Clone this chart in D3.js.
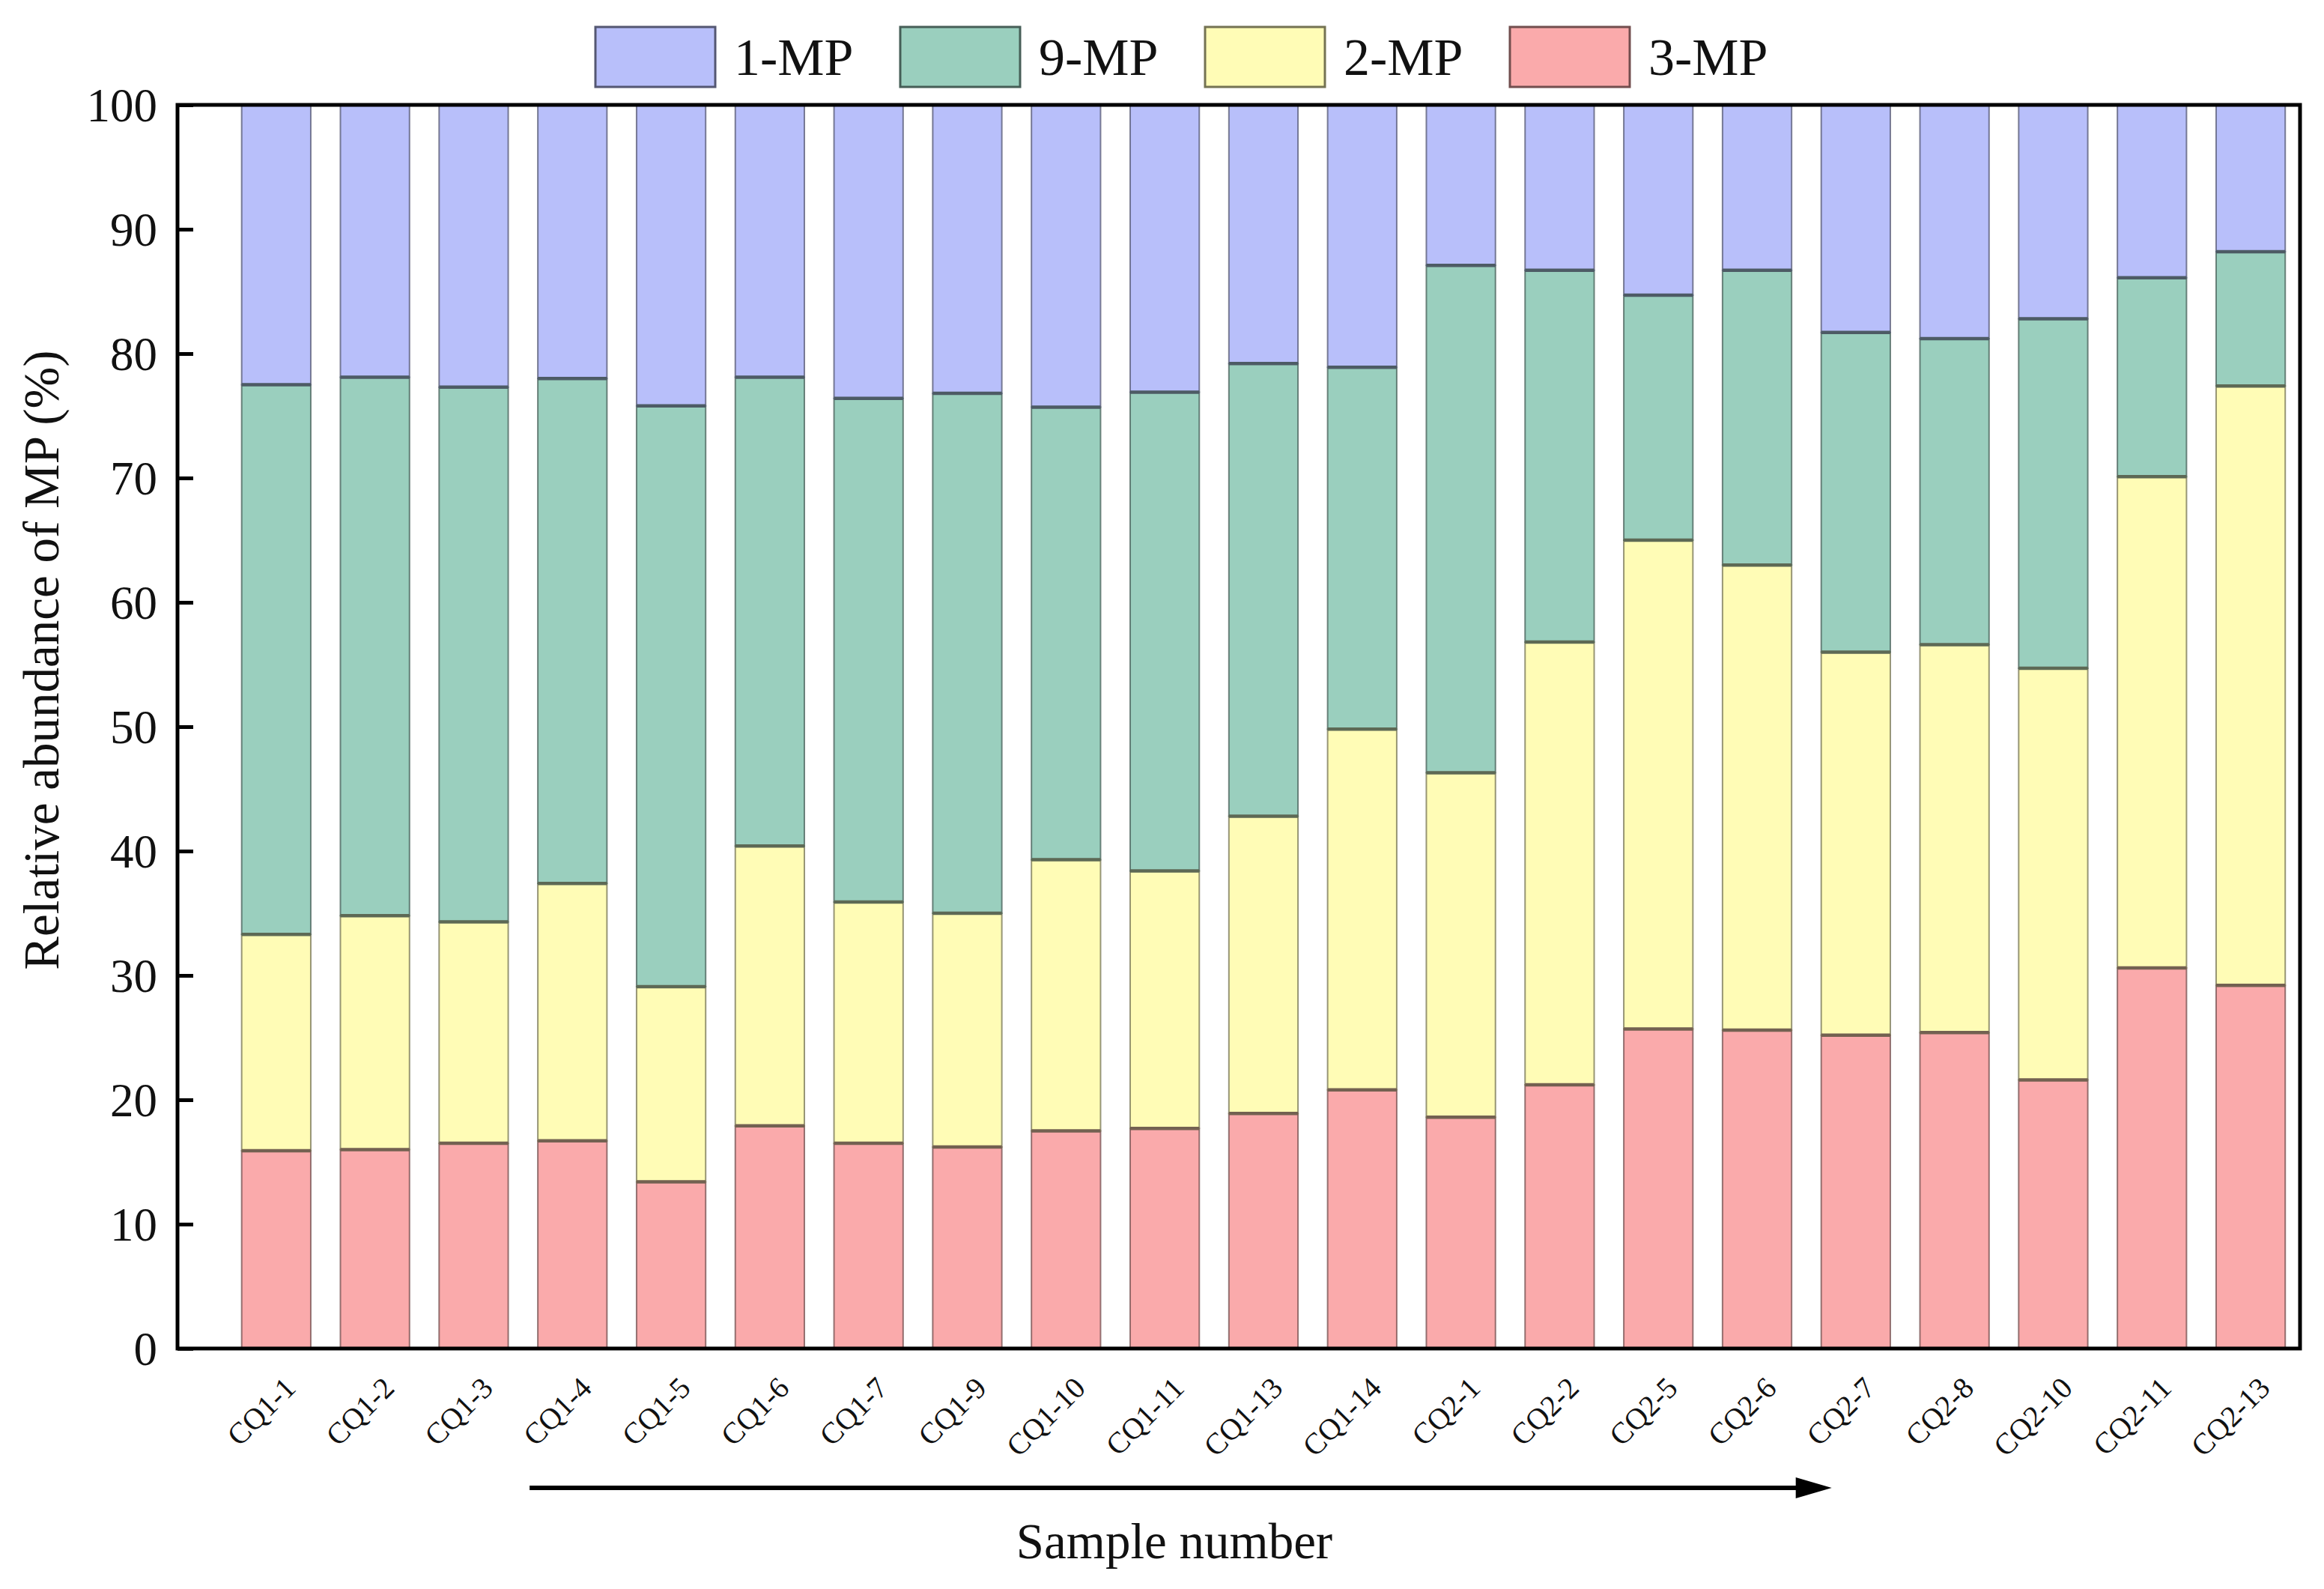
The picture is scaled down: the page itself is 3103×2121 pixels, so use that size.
<!DOCTYPE html>
<html>
<head>
<meta charset="utf-8">
<script src="https://cdn.jsdelivr.net/npm/d3@7"></script>
<style>
  html, body { margin: 0; padding: 0; background: #ffffff; }
  svg { display: block; }
  text { font-family: "Liberation Serif", "Times New Roman", serif; fill: #111; }
</style>
</head>
<body>
<svg id="chart" width="3103" height="2121"></svg>
<script>
// ---------------- data ----------------
const categories = ["CQ1-1","CQ1-2","CQ1-3","CQ1-4","CQ1-5","CQ1-6","CQ1-7","CQ1-9","CQ1-10","CQ1-11","CQ1-13","CQ1-14","CQ2-1","CQ2-2","CQ2-5","CQ2-6","CQ2-7","CQ2-8","CQ2-10","CQ2-11","CQ2-13"];
const mp3 = [15.9,16.0,16.5,16.7,13.4,17.9,16.5,16.2,17.5,17.7,18.9,20.8,18.6,21.2,25.7,25.6,25.2,25.4,21.6,30.6,29.2];
const mp2 = [17.4,18.8,17.8,20.7,15.7,22.5,19.4,18.8,21.8,20.7,23.9,29.0,27.7,35.6,39.3,37.4,30.8,31.2,33.1,39.5,48.2];
const mp9 = [44.2,43.3,43.0,40.6,46.7,37.7,40.5,41.8,36.4,38.5,36.4,29.1,40.8,29.9,19.7,23.7,25.7,24.6,28.1,16.0,10.8];
const mp1 = [22.5,21.9,22.7,22.0,24.2,21.9,23.6,23.2,24.3,23.1,20.8,21.1,12.9,13.3,15.3,13.3,18.3,18.8,17.2,13.9,11.8];
const stackKeys = ["3-MP","2-MP","9-MP","1-MP"];          // bottom -> top
const legendKeys = ["1-MP","9-MP","2-MP","3-MP"];
const seriesColors = ["#faaaab","#fffcb6","#9acfbe","#b8bffa"];
const yTicks = [0,10,20,30,40,50,60,70,80,90,100];
const yTitle = "Relative abundance of MP (%)";
const xTitle = "Sample number";

// ---------------- layout ----------------
const W = 3103, H = 2121;
const L = 237, R = 3071, T = 140, B = 1800;
const svg = d3.select("#chart");
svg.append("rect").attr("width", W).attr("height", H).attr("fill", "#fff");

const rows = categories.map((c, i) => ({cat: c, "3-MP": mp3[i], "2-MP": mp2[i], "9-MP": mp9[i], "1-MP": mp1[i]}));
const stacked = d3.stack().keys(stackKeys)(rows);
const color = d3.scaleOrdinal().domain(stackKeys).range(seriesColors);

const step = (R - L) / 21.5;
const x = d3.scaleBand().domain(categories).range([L + step * 0.5, R]).paddingInner(0.3).paddingOuter(0.15);
const y = d3.scaleLinear().domain([0, 100]).range([B, T]);

const dark = c => d3.color(c).darker(2.2).formatHex();

// bars
const g = svg.append("g");
stacked.forEach(s => {
  const fill = color(s.key);
  g.append("g").selectAll("rect").data(s).join("rect")
    .attr("x", d => x(d.data.cat))
    .attr("width", x.bandwidth())
    .attr("y", d => y(d[1]))
    .attr("height", d => y(d[0]) - y(d[1]))
    .attr("fill", fill)
    .attr("stroke", dark(fill))
    .attr("stroke-opacity", 0.75)
    .attr("stroke-width", 2);
});
// separators between stacked segments
for (let k = 0; k < stacked.length - 1; k++) {
  const lower = color(stacked[k].key), upper = color(stacked[k + 1].key);
  const sepColor = d3.interpolateRgb(dark(lower), dark(upper))(0.5);
  g.append("g").selectAll("line").data(stacked[k]).join("line")
    .attr("x1", d => x(d.data.cat))
    .attr("x2", d => x(d.data.cat) + x.bandwidth())
    .attr("y1", d => y(d[1]))
    .attr("y2", d => y(d[1]))
    .attr("stroke", sepColor)
    .attr("stroke-width", 4.5);
}

// y axis (ticks inward)
const yAxis = d3.axisLeft(y).tickValues(yTicks).tickSize(-21).tickPadding(27).tickFormat(d3.format("d"));
const ya = svg.append("g").attr("transform", `translate(${L},0)`).call(yAxis);
ya.select(".domain").remove();
ya.selectAll(".tick line").attr("stroke", "#000").attr("stroke-width", 5);
ya.selectAll(".tick text").attr("font-size", 63).attr("font-family", "Liberation Serif").attr("fill", "#111").attr("dy", "0.34em");

// x axis labels
const xAxis = d3.axisBottom(x).tickSize(0).tickPadding(0);
const xa = svg.append("g").attr("transform", `translate(0,${B})`).call(xAxis);
xa.select(".domain").remove();
xa.selectAll(".tick text")
  .attr("font-size", 40).attr("font-family", "Liberation Serif").attr("fill", "#222")
  .attr("text-anchor", "end")
  .attr("transform", "translate(28,55) rotate(-45)")
  .attr("dy", 0).attr("y", 0).attr("x", 0);

// frame
svg.append("rect").attr("x", L).attr("y", T).attr("width", R - L).attr("height", B - T)
  .attr("fill", "none").attr("stroke", "#000").attr("stroke-width", 5);

// axis titles
svg.append("text").attr("transform", `translate(78,881) rotate(-90)`)
  .attr("text-anchor", "middle").attr("font-size", 67).text(yTitle);
svg.append("text").attr("x", 1568).attr("y", 2080)
  .attr("text-anchor", "middle").attr("font-size", 67).text(xTitle);

// arrow
const ax1 = x("CQ1-4") - 11, ax2 = x("CQ2-7") + 14, ay = 1986;
svg.append("line").attr("x1", ax1).attr("x2", ax2 - 40).attr("y1", ay).attr("y2", ay)
  .attr("stroke", "#000").attr("stroke-width", 6);
svg.append("path").attr("d", `M${ax2 - 48},${ay - 14} L${ax2},${ay} L${ax2 - 48},${ay + 14} Z`).attr("fill", "#000");

// legend
const lg = svg.append("g");
legendKeys.forEach((k, i) => {
  const lx = 795 + i * 407;
  lg.append("rect").attr("x", lx).attr("y", 36).attr("width", 160).attr("height", 80)
    .attr("fill", color(k)).attr("stroke", dark(color(k))).attr("stroke-width", 3);
  lg.append("text").attr("x", lx + 185).attr("y", 100).attr("font-size", 70).text(k);
});
</script>
</body>
</html>
